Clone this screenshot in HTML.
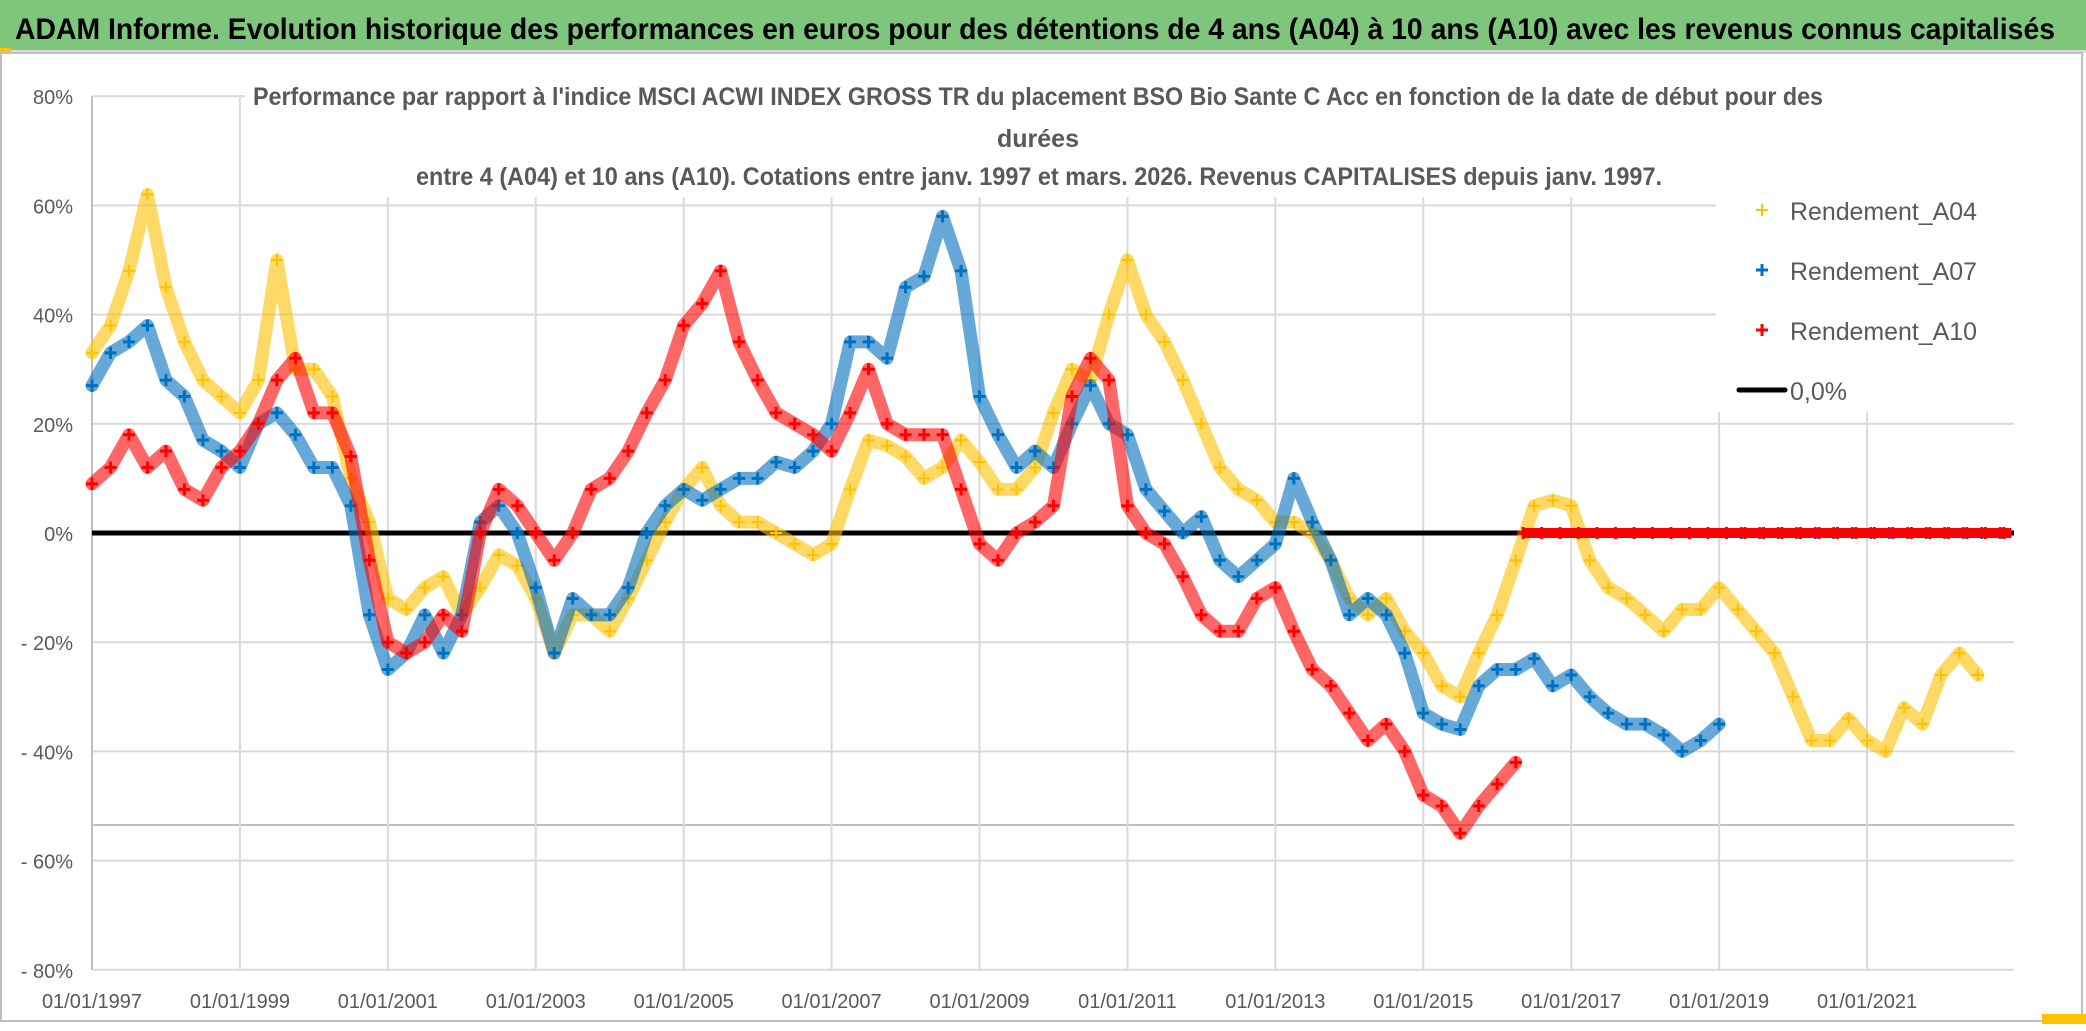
<!DOCTYPE html>
<html><head><meta charset="utf-8"><style>
html,body{margin:0;padding:0;background:#fff}
svg{display:block}
text{font-family:"Liberation Sans",sans-serif}
</style></head><body>
<svg id="chart" width="2086" height="1031" viewBox="0 0 2086 1031" xmlns="http://www.w3.org/2000/svg">
<rect x="0" y="0" width="2086" height="1031" fill="#fff"/>
<rect x="0" y="0" width="2086" height="50" fill="#7DC67C"/>
<rect x="0" y="50" width="2086" height="3" fill="#d9d9d9"/>
<rect x="0" y="48" width="11" height="4" fill="#FFC000"/>
<text x="15" y="39" font-size="30" font-weight="bold" fill="#000" textLength="2040" lengthAdjust="spacingAndGlyphs">ADAM Informe. Evolution historique des performances en euros pour des détentions de 4 ans (A04) à 10 ans (A10) avec les revenus connus capitalisés</text>
<rect x="1" y="53" width="2081" height="968" fill="none" stroke="#bfbfbf" stroke-width="2"/>
<rect x="2042" y="1014" width="44" height="10" fill="#FFC000"/>
<g id="grid"></g>
<g id="axes"></g>
<g id="series"></g>
<rect x="245" y="80" width="1780" height="117" fill="#fff"/>
<text x="253" y="105" font-size="25" font-weight="bold" fill="#595959" textLength="1570" lengthAdjust="spacingAndGlyphs">Performance  par rapport à l'indice MSCI ACWI INDEX GROSS TR  du placement BSO Bio Sante C Acc en fonction de la date de début pour des</text>
<text x="1038" y="147" font-size="25" font-weight="bold" fill="#595959" text-anchor="middle">durées</text>
<text x="416" y="185" font-size="25" font-weight="bold" fill="#595959" textLength="1246" lengthAdjust="spacingAndGlyphs">entre 4 (A04) et 10 ans (A10). Cotations entre janv. 1997 et mars. 2026. Revenus CAPITALISES depuis janv. 1997.</text>
<g>
<rect x="1716" y="186" width="305" height="226" fill="#fff"/>
<g><path d="M1756 210h12M1762 204v12" stroke="#FFC000" stroke-width="2"/><text x="1790" y="220" font-size="25" fill="#595959" textLength="187" lengthAdjust="spacingAndGlyphs">Rendement_A04</text></g>
<g><path d="M1756 270h12M1762 264v12" stroke="#0070C0" stroke-width="3"/><text x="1790" y="280" font-size="25" fill="#595959" textLength="187" lengthAdjust="spacingAndGlyphs">Rendement_A07</text></g>
<g><path d="M1756 330h12M1762 324v12" stroke="#FF0000" stroke-width="3"/><text x="1790" y="340" font-size="25" fill="#595959" textLength="187" lengthAdjust="spacingAndGlyphs">Rendement_A10</text></g>
<g><path d="M1739 390h46" stroke="#000" stroke-width="5" stroke-linecap="round"/><text x="1790" y="400" font-size="25" fill="#595959">0,0%</text></g>
</g>
</svg>
<script>
const yTicks=[80,60,40,20,0,-20,-40,-60,-80];
const yTickLabels=["80%","60%","40%","20%","0%","- 20%","- 40%","- 60%","- 80%"];
const xTicks=[1997,1999,2001,2003,2005,2007,2009,2011,2013,2015,2017,2019,2021];
const xTickLabels=["01/01/1997","01/01/1999","01/01/2001","01/01/2003","01/01/2005","01/01/2007","01/01/2009","01/01/2011","01/01/2013","01/01/2015","01/01/2017","01/01/2019","01/01/2021"];
const a04Start=1997.0, a07Start=1997.0, a10Start=1997.0;
const a04=[33,38,48,62,45,35,28,25,22,28,50,30,30,25,10,2,-12,-14,-10,-8,-15,-10,-4,-6,-12,-22,-15,-15,-18,-12,-5,2,8,12,5,2,2,0,-2,-4,-2,8,17,16,14,10,12,17,13,8,8,12,22,30,28,40,50,40,35,28,20,12,8,6,2,2,0,-5,-12,-15,-12,-18,-22,-28,-30,-22,-15,-5,5,6,5,-5,-10,-12,-15,-18,-14,-14,-10,-14,-18,-22,-30,-38,-38,-34,-38,-40,-32,-35,-26,-22,-26];
const a07=[27,33,35,38,28,25,17,15,12,20,22,18,12,12,5,-15,-25,-22,-15,-22,-15,2,5,0,-10,-22,-12,-15,-15,-10,0,5,8,6,8,10,10,13,12,15,20,35,35,32,45,47,58,48,25,18,12,15,12,20,27,20,18,8,4,0,3,-5,-8,-5,-2,10,2,-5,-15,-12,-15,-22,-33,-35,-36,-28,-25,-25,-23,-28,-26,-30,-33,-35,-35,-37,-40,-38,-35];
const a10=[9,12,18,12,15,8,6,12,15,20,28,32,22,22,14,-5,-20,-22,-20,-15,-18,0,8,5,0,-5,0,8,10,15,22,28,38,42,48,35,28,22,20,18,15,22,30,20,18,18,18,8,-2,-5,0,2,5,25,32,28,5,0,-2,-8,-15,-18,-18,-12,-10,-18,-25,-28,-33,-38,-35,-40,-48,-50,-55,-50,-46,-42];
const zeroFrom=[2022.6,2019.3,2016.35];
const zeroTo=2022.95;
const colors=["#FFC000","#0070C0","#FF0000"];
const step=0.25;

const NS="http://www.w3.org/2000/svg";
const X0=92,PX_PER_YEAR=73.96,Y0=533,PX_PER_PCT=109.2/20;
function xs(t){return X0+(t-1997)*PX_PER_YEAR;}
function ys(v){return Y0-v*PX_PER_PCT;}
function mk(tag,attrs,parent){const e=document.createElementNS(NS,tag);for(const k in attrs)e.setAttribute(k,attrs[k]);parent.appendChild(e);return e;}
const grid=document.getElementById('grid'),axes=document.getElementById('axes'),ser=document.getElementById('series');
const plotRight=2014, plotBottom=ys(-80);

yTicks.forEach((v,i)=>{
  const l=mk('line',{x1:X0,x2:plotRight,y1:ys(v),y2:ys(v),stroke:'#d9d9d9','stroke-width':2},grid);
  
  
  const t=mk('text',{x:73,y:ys(v)+8,'font-size':20,fill:'#595959','text-anchor':'end'},axes);
  t.textContent=yTickLabels[i];
  
  
});
const extra=mk('line',{x1:X0,x2:plotRight,y1:825,y2:825,stroke:'#bfbfbf','stroke-width':2},grid);


xTicks.forEach((t,i)=>{
  const x=xs(t);
  const l=mk('line',{x1:x,x2:x,y1:ys(80),y2:plotBottom,stroke:'#d9d9d9','stroke-width':2},grid);
  
  
  const tx=mk('text',{x:x,y:1008,'font-size':20,fill:'#595959','text-anchor':'middle'},axes);
  tx.textContent=xTickLabels[i];
  
  
});
const ax=mk('line',{x1:X0,x2:X0,y1:ys(80),y2:plotBottom,stroke:'#bfbfbf','stroke-width':2},axes);


const zl=mk('line',{x1:X0,x2:plotRight,y1:ys(0),y2:ys(0),stroke:'#000','stroke-width':5},ser);



function plus(g,x,y,c,w){
  const p=mk('path',{d:`M${x-6} ${y}h12M${x} ${y-6}v12`,stroke:c,'stroke-width':w},g);
  
  
}
const all=[[a04,a04Start,'a04'],[a07,a07Start,'a07'],[a10,a10Start,'a10']];
all.forEach(([vals,start,name],si)=>{
  const g=mk('g',{},ser);
  
  
  const pts=vals.map((v,i)=>[xs(start+i*step),ys(v)]);
  const pl=mk('polyline',{points:pts.map(p=>p.join(',')).join(' '),fill:'none',stroke:colors[si],'stroke-width':13,'stroke-opacity':0.6,'stroke-linejoin':'round','stroke-linecap':'round'},g);
  
  
  pts.forEach(p=>plus(g,p[0],p[1],colors[si],si===0?2:3));
  const zt=mk('line',{x1:xs(zeroFrom[si]),x2:xs(zeroTo),y1:ys(0),y2:ys(0),stroke:colors[si],'stroke-width':10},g);
  
  
  for(let t=zeroFrom[si];t<=zeroTo;t+=step) plus(g,xs(t),ys(0),colors[si],3);
});
</script>
</body></html>
